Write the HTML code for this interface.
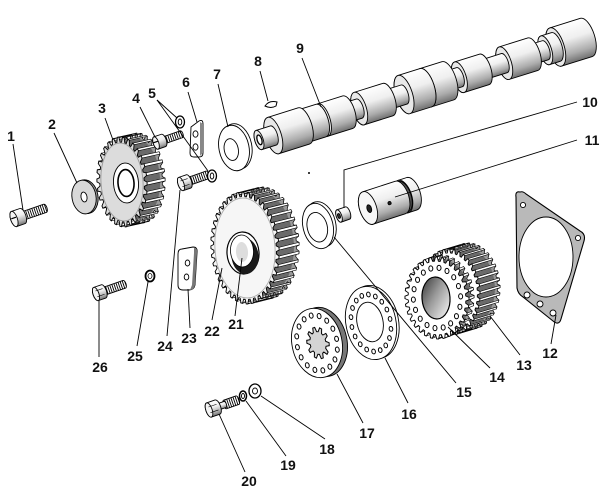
<!DOCTYPE html>
<html><head><meta charset="utf-8"><title>diagram</title>
<style>
html,body{margin:0;padding:0;background:#fff;width:606px;height:493px;overflow:hidden}
svg{display:block}
.lb text{font-family:"Liberation Sans",Arial,sans-serif;font-weight:bold;font-size:14px;fill:#111;text-anchor:middle}
</style></head><body>
<svg id="svg" width="606" height="493" viewBox="0 0 606 493" xmlns="http://www.w3.org/2000/svg">
<defs>
<linearGradient id="cyl" x1="0" y1="0" x2="0" y2="1"><stop offset="0" stop-color="#fff"/><stop offset="0.4" stop-color="#efefef"/><stop offset="0.78" stop-color="#ababab"/><stop offset="1" stop-color="#707070"/></linearGradient>
<linearGradient id="hub" x1="0" y1="0" x2="1" y2="1"><stop offset="0" stop-color="#333"/><stop offset="0.45" stop-color="#999"/><stop offset="1" stop-color="#fff"/></linearGradient>
<pattern id="thr" patternUnits="userSpaceOnUse" width="2.2" height="20"><rect width="2.2" height="20" fill="#fff"/><rect width="0.9" height="20" fill="#000"/></pattern>
</defs>
<g id="parts"></g>
<g id="static" stroke="#000" stroke-width="0.9">
 <!-- gasket 12 -->
 <path d="M520,192 Q515,191 516,197 L517,288 Q518,294 523,297 L553,321 Q559,326 561,319 L584,241 Q586,234 580,231 L526,194 Q523,191 520,192 Z" fill="#b9b9b9" stroke-width="1.1"/>
 <ellipse cx="546" cy="257" rx="27" ry="40" fill="#fff"/>
 <circle cx="523" cy="205" r="2.6" fill="#fff"/>
 <circle cx="578" cy="238" r="2.6" fill="#fff"/>
 <circle cx="527" cy="295" r="3" fill="#fff"/>
 <circle cx="540" cy="304" r="3" fill="#fff"/>
 <circle cx="553" cy="313" r="3" fill="#fff"/>
 <!-- washer 2 -->
 <g transform="rotate(-10 84 197)"><ellipse cx="86" cy="197" rx="12" ry="17" fill="#999"/><ellipse cx="84" cy="197" rx="12" ry="17" fill="#d8d8d8"/><ellipse cx="84" cy="197" rx="3" ry="5" fill="#fff"/></g>
 <!-- washer 7 -->
 <g transform="rotate(-12 234 148)"><ellipse cx="237" cy="147" rx="15" ry="23" fill="#fff"/><ellipse cx="234" cy="148" rx="15" ry="23" fill="#fff"/><ellipse cx="231" cy="149" rx="7" ry="11" fill="#fff"/></g>
 <!-- washer 15 -->
 <g transform="rotate(-14 318 226)"><ellipse cx="321" cy="225" rx="15" ry="23" fill="#fff"/><ellipse cx="318" cy="226" rx="15" ry="23" fill="#fff"/><ellipse cx="317" cy="227" rx="10" ry="15" fill="#fff"/></g>
 <!-- plate 6 -->
 <path d="M191,127 L199,121 Q203,119 203,124 L203,153 Q203,157 199,157 L194,157 Q190,157 190,153 Z" fill="#fff"/>
 <path d="M200,122 L203,124 L203,153 L200,156 Z" fill="#888" stroke="none"/>
 <ellipse cx="195.5" cy="134" rx="2.5" ry="3.2" fill="#fff"/>
 <ellipse cx="195.5" cy="147" rx="2.5" ry="3.2" fill="#fff"/>
 <!-- plate 23 -->
 <path d="M182,249 L193,247 Q198,247 197,253 L195,285 Q194,290 189,290 L183,290 Q178,290 178,285 L178,254 Q178,249 182,249 Z" fill="#fff"/>
 <path d="M194,248 Q198,248 197,253 L195,285 Q194,290 190,290 L192,285 L194,253 Z" fill="#777" stroke="none"/>
 <ellipse cx="187.5" cy="263" rx="2.3" ry="3" fill="#fff"/>
 <ellipse cx="186.5" cy="277" rx="2.3" ry="3" fill="#fff"/>
 <!-- key 8 -->
 <path d="M265,106 Q269,100 277,102 L276,106 Q271,109 265,106 Z" fill="#fff" stroke-width="1"/>
 <!-- washers 5 -->
 <ellipse cx="180" cy="122" rx="4.5" ry="6" fill="#fff" stroke-width="1.3"/><ellipse cx="180" cy="122" rx="1.8" ry="3" fill="#fff"/>
 <ellipse cx="212" cy="176" rx="4.5" ry="6" fill="#fff" stroke-width="1.3"/><ellipse cx="212" cy="176" rx="1.8" ry="3" fill="#fff"/>
 <!-- clip 25 -->
 <ellipse cx="150" cy="276" rx="4.5" ry="5.5" fill="none" stroke-width="1.8"/>
 <ellipse cx="150" cy="276" rx="2" ry="2.5" fill="none" stroke-width="0.8"/>
 <!-- washers 18, 19 -->
 <ellipse cx="255" cy="391" rx="6" ry="7" fill="#fff" stroke-width="1.3"/><ellipse cx="255" cy="391" rx="2.5" ry="3" fill="#fff"/>
 <ellipse cx="243" cy="396" rx="3.5" ry="5" fill="#fff" stroke-width="1.5"/><ellipse cx="243" cy="396" rx="1.5" ry="2.5" fill="#fff"/>
 <circle cx="309" cy="173" r="1" fill="#000" stroke="none"/>
</g>
<g id="leaders" stroke="#000" stroke-width="0.9" fill="none">
 <line x1="13" y1="144" x2="23" y2="210"/>
 <line x1="54" y1="133" x2="77" y2="183"/>
 <line x1="105" y1="118" x2="113" y2="140"/>
 <line x1="140" y1="107" x2="155" y2="137"/>
 <line x1="157" y1="100" x2="177" y2="118"/>
 <line x1="157" y1="100" x2="208" y2="171"/>
 <line x1="188" y1="92" x2="197" y2="122"/>
 <line x1="218" y1="84" x2="228" y2="127"/>
 <line x1="260" y1="71" x2="268" y2="101"/>
 <line x1="302" y1="58" x2="321" y2="107"/>
 <polyline points="577,102 344,170 344,208"/>
 <line x1="577" y1="140" x2="395" y2="197"/>
 <line x1="556" y1="315" x2="551" y2="344"/>
 <line x1="490" y1="316" x2="520" y2="355"/>
 <line x1="448" y1="327" x2="490" y2="368"/>
 <line x1="334" y1="237" x2="456" y2="383"/>
 <line x1="385" y1="358" x2="408" y2="403"/>
 <line x1="337" y1="374" x2="363" y2="423"/>
 <line x1="261" y1="396" x2="325" y2="439"/>
 <line x1="246" y1="401" x2="286" y2="456"/>
 <line x1="219" y1="414" x2="245" y2="472"/>
 <line x1="242" y1="258" x2="235" y2="316"/>
 <line x1="222" y1="268" x2="212" y2="320"/>
 <line x1="188" y1="289" x2="190" y2="328"/>
 <line x1="180" y1="190" x2="167" y2="336"/>
 <line x1="148" y1="282" x2="137" y2="346"/>
 <line x1="99" y1="300" x2="99" y2="357"/>
</g>
<g class="lb">
 <text x="11" y="141">1</text>
 <text x="52" y="129">2</text>
 <text x="102" y="113">3</text>
 <text x="136" y="103">4</text>
 <text x="152" y="98">5</text>
 <text x="186" y="87">6</text>
 <text x="217" y="79">7</text>
 <text x="258" y="66">8</text>
 <text x="300" y="53">9</text>
 <text x="590" y="107">10</text>
 <text x="592" y="145">11</text>
 <text x="550" y="358">12</text>
 <text x="524" y="370">13</text>
 <text x="497" y="382">14</text>
 <text x="464" y="397">15</text>
 <text x="409" y="419">16</text>
 <text x="367" y="438">17</text>
 <text x="327" y="454">18</text>
 <text x="288" y="470">19</text>
 <text x="249" y="486">20</text>
 <text x="236" y="329">21</text>
 <text x="212" y="336">22</text>
 <text x="189" y="343">23</text>
 <text x="165" y="351">24</text>
 <text x="135" y="361">25</text>
 <text x="100" y="372">26</text>
</g>
</svg>
<script>
(function(){
const NS="http://www.w3.org/2000/svg";
const P=document.getElementById("parts");
function el(p,t,a){const e=document.createElementNS(NS,t);for(const k in a)e.setAttribute(k,a[k]);p.appendChild(e);return e;}
function G(t){return el(P,"g",{transform:t,stroke:"#000","stroke-width":"0.9"});}
function pt(cx,cy,rx,ry,rot,r,a){const x=rx*r*Math.cos(a),y=ry*r*Math.sin(a),c=Math.cos(rot),s=Math.sin(rot);return [cx+x*c-y*s,cy+x*s+y*c];}
function pth(A){return "M"+A.map(function(q){return q[0].toFixed(2)+","+q[1].toFixed(2);}).join("L")+"Z";}
function gearPts(cx,cy,rx,ry,n,d,rot,ph){const A=[],p=2*Math.PI/n;for(let i=0;i<n;i++){const a=i*p+ph;A.push(pt(cx,cy,rx,ry,rot,1-d,a));A.push(pt(cx,cy,rx,ry,rot,1,a+0.2*p));A.push(pt(cx,cy,rx,ry,rot,1,a+0.5*p));A.push(pt(cx,cy,rx,ry,rot,1-d,a+0.7*p));}return A;}
function E(g,cx,cy,rx,ry,rot,a){const o=Object.assign({cx:cx,cy:cy,rx:rx,ry:ry,transform:"rotate("+(rot||0)+" "+cx+" "+cy+")"},a||{});return el(g,"ellipse",o);}
function gear(o){
 const g=G(""),rd=(o.rot||0)*Math.PI/180,ph=o.ph||0;
 const F=gearPts(o.cx,o.cy,o.rx,o.ry,o.n,o.d,rd,ph),B=gearPts(o.cx+o.dx,o.cy+o.dy,o.rx,o.ry,o.n,o.d,rd,ph);
 el(g,"path",{d:pth(B),fill:o.bf||"#9a9a9a","stroke-width":0.7});
 for(let k=1;k<8;k++){const t=k/8,x=o.cx+o.dx*t,y=o.cy+o.dy*t;el(g,"ellipse",{cx:x,cy:y,rx:o.rx*(1-o.d),ry:o.ry*(1-o.d),transform:"rotate("+(o.rot||0)+" "+x+" "+y+")",fill:o.sf||"#6a6a6a",stroke:"none"});}
 for(let i=0;i<o.n;i++){el(g,"path",{d:pth([F[i*4+1],F[i*4+2],B[i*4+2],B[i*4+1]]),fill:"#fff","stroke-width":0.6});}
 el(g,"path",{d:pth(F),fill:o.ff||"#fff","stroke-width":0.9});
 return g;
}
function ring(g,cx,cy,rx,ry,rot,n,rr,hx,hy,fill,sw,ph){const rd=rot*Math.PI/180;for(let i=0;i<n;i++){const a=(ph||0)+i*2*Math.PI/n;const q=pt(cx,cy,rx,ry,rd,rr,a);const x=q[0].toFixed(2),y=q[1].toFixed(2);el(g,"ellipse",{cx:x,cy:y,rx:hx,ry:hy,transform:"rotate("+rot+" "+x+" "+y+")",fill:fill||"#fff","stroke-width":sw||1});}}
function cyl(g,x1,x2,r,fill,face,k){const e=((k||0.42)*r).toFixed(2);el(g,"path",{d:"M"+x1+","+(-r)+"L"+x2+","+(-r)+"A"+e+","+r+" 0 0 1 "+x2+","+r+"L"+x1+","+r+"A"+e+","+r+" 0 0 1 "+x1+","+(-r)+"Z",fill:fill});if(face)el(g,"ellipse",{cx:x1,cy:0,rx:e,ry:r,fill:face});}

/* camshaft 9 */
const cam=G("translate(259,140) rotate(-17.4)");
const segs=[[0,15,10],[15,47,19],[47,65,17],[65,67,12],[67,93,17],[93,105,10],[105,135,17],[135,152,10],[152,175,20],[175,198,20],[198,210,10],[210,236,16],[236,257,10],[257,287,17],[287,300,10],[300,311,15],[311,343,20]];
for(let i=segs.length-1;i>=0;i--){const s=segs[i];cyl(cam,s[0],s[1],s[2],"url(#cyl)","#e8e8e8");}
el(cam,"ellipse",{cx:0.5,cy:0,rx:2.3,ry:5,fill:"#fff","stroke-width":1.3});

/* bushing 11 */
const b11=G("translate(368,208) rotate(-18)");
cyl(b11,37,46,17,"url(#cyl)","#f0f0f0",0.5);cyl(b11,34,37,16,"#555",null,0.5);cyl(b11,0,34,17,"url(#cyl)","#f6f6f6",0.5);
el(b11,"ellipse",{cx:1,cy:1,rx:2.2,ry:4,fill:"#222"});
el(b11,"circle",{cx:22,cy:2,r:1.6,fill:"#222"});

/* nut 10 */
const n10=G("translate(339,216) rotate(-19)");
cyl(n10,0,9,6.5,"url(#cyl)","#f4f4f4");
el(n10,"ellipse",{cx:0,cy:0,rx:1.3,ry:2.5,fill:"#333"});

/* gear 3 */
let g=gear({cx:122,cy:182,rx:25,ry:45,n:30,d:0.11,dx:18,dy:-4,rot:-4,ff:"#dcdcdc"});
E(g,122,182,21,39,-4,{fill:"none",stroke:"#999"});
E(g,126,183,12.5,20,-4,{fill:"#fff"});
E(g,126,183,8,13.5,-4,{fill:"#fff","stroke-width":1.6});

/* gear 22 / hub 21 */
g=gear({cx:245,cy:248,rx:34,ry:56,n:40,d:0.08,dx:20,dy:-5,rot:-4,ff:"#f6f6f6"});
E(g,245,248,30,50,-4,{fill:"none",stroke:"#aaa"});
E(g,243,253,16,21,-4,{fill:"#fff","stroke-width":1.2});
E(g,245,256,13.5,18,-4,{fill:"#1a1a1a",stroke:"none"});
E(g,242,251,11.5,16,-4,{fill:"#fff","stroke-width":0.8});
E(g,242,252,6,10,-4,{fill:"#ddd",stroke:"none"});

/* gear 13 and 14 */
gear({cx:450,cy:292,rx:30,ry:43,n:36,d:0.09,dx:20,dy:-6,rot:-4});
g=gear({cx:437,cy:298,rx:32,ry:41,n:32,d:0.1,dx:5,dy:-2,rot:-4});
ring(g,437,298,32,41,-4,18,0.74,2,2.6);
E(g,436,298,14,21,-4,{fill:"url(#hub)","stroke-width":1.2});

/* disc 16 */
g=G("");
E(g,373.5,322,25,37,-12,{fill:"#fff"});
E(g,371,323,25,37,-12,{fill:"#fff"});
E(g,370,322,13,20,-12,{fill:"#fff"});
ring(g,371,323,25,37,-12,18,0.78,1.8,2.4);

/* disc 17 */
g=G("");
E(g,322,342,25,35,-12,{fill:"#777"});
E(g,317,343,25,35,-12,{fill:"#fff"});
ring(g,317,343,25,35,-12,16,0.8,1.9,2.6);
el(g,"path",{d:pth(gearPts(318,343,11,16,10,0.28,-12*Math.PI/180,0)),fill:"#d4d4d4","stroke-width":1});

/* bolts */
function bolt(tx,ty,hl,hr,parts,slot){const b=G("translate("+tx+","+ty+") rotate(-19)");for(let i=parts.length-1;i>=0;i--){const q=parts[i];cyl(b,q[0],q[1],q[2],q[3],null);}cyl(b,0,hl,hr,"url(#cyl)","#f4f4f4");if(slot){el(b,"line",{x1:-2.5,y1:-1,x2:2.5,y2:-1,"stroke-width":1.2});}else{el(b,"line",{x1:0.5,y1:-3,x2:hl,y2:-3,"stroke-width":0.6});el(b,"line",{x1:0.5,y1:3,x2:hl,y2:3,"stroke-width":0.6});}return b;}
bolt(14,219,9,8,[[9,33,4.3,"url(#thr)"]],true);
bolt(156,143,8,6.5,[[8,27,3.6,"url(#thr)"]],true);
bolt(181,184,8,7,[[8,28,4,"url(#thr)"]],false);
bolt(96,294,8,7,[[8,30,4,"url(#thr)"]],false);
bolt(209,410,9,7.5,[[9,17,3.2,"url(#cyl)"],[17,30,4.5,"url(#thr)"]],false);
})();
</script>
</body></html>
